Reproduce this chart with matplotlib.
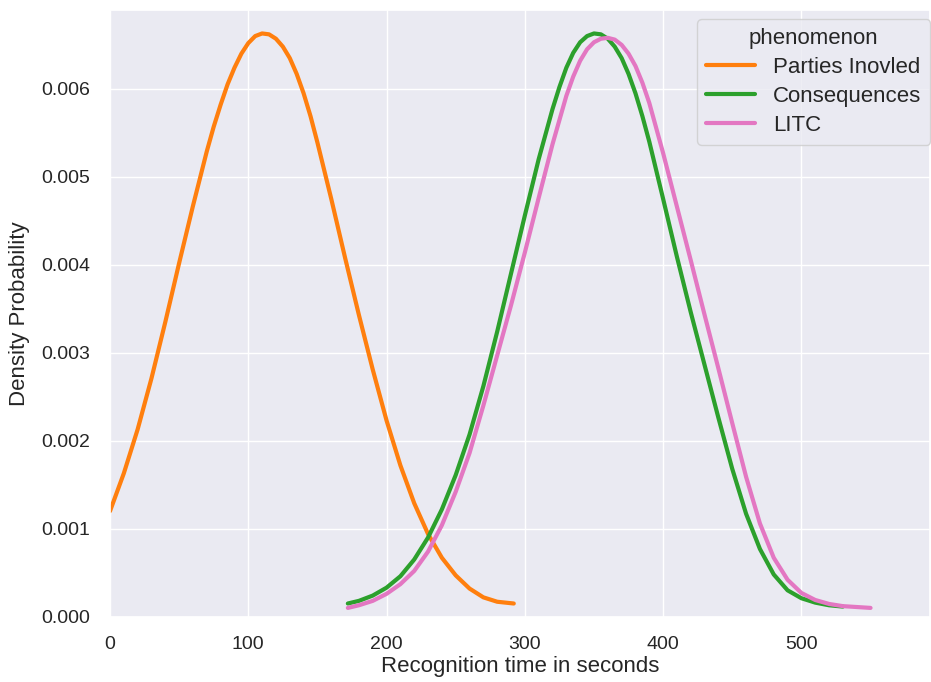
import numpy as np
import matplotlib
matplotlib.use('Agg')
import matplotlib.pyplot as plt
import seaborn as sns

sns.set_theme(style='darkgrid')
plt.rcParams['font.family'] = ['Liberation Sans', 'DejaVu Sans']

# values (seconds, density x 1e-5)
parties_x = [0, 10, 20, 30, 40, 50, 60, 70, 75, 80, 85, 90, 95, 100, 105, 110, 115, 120,
             125, 130, 135, 140, 145, 150, 160, 170, 180, 190, 200, 210, 220, 230, 240,
             250, 260, 270, 280, 292]
parties_y = [120, 163, 213, 271, 335, 402, 467, 529, 557, 582, 605, 624, 640, 652, 660,
             663, 662, 657, 648, 635, 617, 595, 569, 539, 475, 408, 343, 281, 223, 172,
             129, 94, 67, 47, 32, 22, 17, 15]

conseq_x = [172, 180, 190, 200, 210, 220, 230, 240, 250, 260, 270, 280, 290, 300, 310,
            320, 325, 330, 335, 340, 345, 350, 355, 360, 365, 370, 375, 380, 385, 390,
            400, 410, 420, 430, 440, 450, 460, 470, 480, 490, 500, 510, 520, 530]
conseq_y = [15, 18, 24, 33, 46, 65, 90, 122, 161, 207, 262, 324, 390, 456, 520, 577, 602,
            624, 641, 653, 660, 663, 662, 657, 648, 635, 617, 595, 569, 540, 475, 409, 346,
            286, 226, 168, 117, 77, 48, 30, 21, 16, 13, 11.5]

litc_x = [172, 180, 190, 200, 210, 220, 230, 240, 250, 260, 270, 280, 290, 300, 310, 320,
          330, 335, 340, 345, 350, 355, 360, 365, 370, 375, 380, 385, 390, 400, 410, 420,
          430, 440, 450, 460, 470, 480, 490, 500, 510, 520, 530, 540, 550]
litc_y = [10, 13, 18, 26, 37, 52, 74, 104, 142, 186, 240, 297, 354, 414, 476, 537, 592,
          614, 632, 645, 653, 657, 658, 656, 650, 640, 626, 607, 584, 527, 466, 405, 343,
          282, 220, 159, 106, 67, 42, 27, 19, 14.5, 12, 11, 10]

fig = plt.figure(figsize=(9.31, 6.82), dpi=100)
ax = fig.add_axes([110/931, (682-616.7)/682, 820/931, 607/682])

ax.plot(parties_x, np.array(parties_y)*1e-5, color='#ff7f0e', lw=3, solid_joinstyle='round',
        label='Parties Inovled')
ax.plot(conseq_x, np.array(conseq_y)*1e-5, color='#2ca02c', lw=3, solid_joinstyle='round',
        label='Consequences')
ax.plot(litc_x, np.array(litc_y)*1e-5, color='#e377c2', lw=3, solid_joinstyle='round',
        label='LITC')

ax.set_xlim(0, 593)
ax.set_ylim(0, 0.0069)
ax.set_xticks([0, 100, 200, 300, 400, 500])
ax.set_yticks([0, 0.001, 0.002, 0.003, 0.004, 0.005, 0.006])
ax.set_yticklabels(['0.000', '0.001', '0.002', '0.003', '0.004', '0.005', '0.006'])
ax.tick_params(axis='both', labelsize=14, pad=14, length=0, labelcolor='#262626')

ax.set_xlabel('Recognition time in seconds', fontsize=16, labelpad=2, color='#262626')
ax.set_ylabel('Density Probability', fontsize=16, labelpad=8, color='#262626')

leg = ax.legend(title='phenomenon', loc='upper right', bbox_to_anchor=(1.0, 0.984),
                borderaxespad=0, fontsize=16, title_fontsize=16, handlelength=2.2,
                labelspacing=0.35)

fig.savefig('out.png', dpi=100)
